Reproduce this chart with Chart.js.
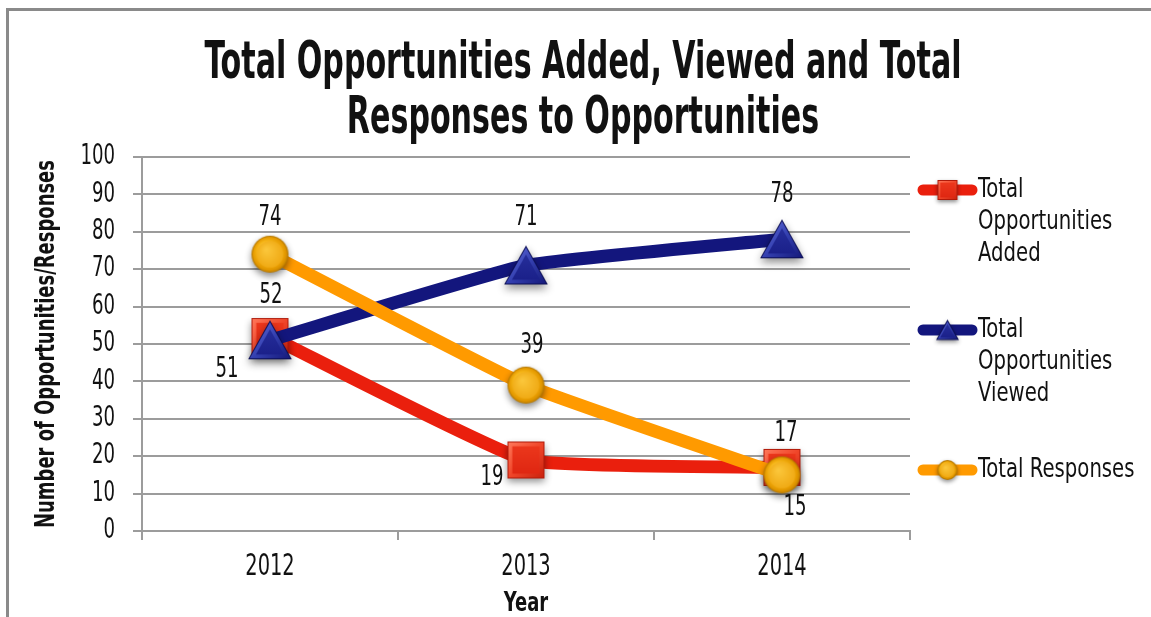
<!DOCTYPE html>
<html>
<head>
<meta charset="utf-8">
<script src="https://cdn.jsdelivr.net/npm/chart.js@4/dist/chart.umd.min.js"></script>
<style>
  html, body { margin: 0; padding: 0; background: #fff; overflow: hidden; }
  canvas { display: block; }
</style>
</head>
<body>
<canvas id="chart" width="1151" height="617"></canvas>
<script>
// ---- data ----
const years = ['2012', '2013', '2014'];
const addedValues = [52, 19, 17];
const viewedValues = [51, 71, 78];
const responseValues = [74, 39, 15];
const seriesNames = ['Total Opportunities Added', 'Total Opportunities Viewed', 'Total Responses'];
const titleLines = ['Total Opportunities Added, Viewed and Total', 'Responses to Opportunities'];
const yAxisTitle = 'Number of Opportunities/Responses';
const xAxisTitle = 'Year';

// ---- styles ----
const RED = '#EA1F0D';
const NAVY = '#13167D';
const ORANGE = '#FF9A00';
const GRID = '#9c9c9c';
const TEXT = '#111';
const NARROW = '"DejaVu Sans Condensed", "Liberation Sans", sans-serif';
const SQUEEZE = 0.81;       // horizontal compression for legend text
const NUM_SQUEEZE = 0.72;   // horizontal compression for numbers

// Draw text compressed horizontally around its anchor point
function squeezedText(g, text, x, y, sx, angle) {
  g.save();
  g.translate(x, y);
  if (angle) g.rotate(angle);
  g.scale(sx, 1);
  g.fillText(text, 0, 0);
  g.restore();
}

// Bevelled marker glyphs, rendered once into small canvases
function markerCanvas(shape, s) {
  const pad = Math.round(s * 0.4);
  const W = s + pad * 2;
  const cv = document.createElement('canvas');
  cv.width = W; cv.height = W;
  const g = cv.getContext('2d');
  const c = W / 2, h = s / 2;

  function path(inset) {
    g.beginPath();
    if (shape === 'square') {
      g.rect(c - h + inset, c - h + inset, s - 2 * inset, s - 2 * inset);
    } else if (shape === 'triangle') {
      const top = c - h * 1.0 + inset * 1.9, bot = c + h * 0.95 - inset;
      const half = (bot - top) * 0.56;
      g.moveTo(c, top);
      g.lineTo(c + half, bot);
      g.lineTo(c - half, bot);
      g.closePath();
    } else {
      g.arc(c, c, h - inset, 0, Math.PI * 2);
    }
  }

  // drop shadow
  g.save();
  g.shadowColor = 'rgba(0,0,0,0.45)';
  g.shadowBlur = s * 0.2;
  g.shadowOffsetY = s * 0.1;
  path(0);
  g.fillStyle = shape === 'square' ? '#B01A0A' : shape === 'triangle' ? '#0B0E55' : '#B87A00';
  g.fill();
  g.restore();

  if (shape === 'square') {
    path(1);
    let lg = g.createLinearGradient(c - h, c - h, c + h, c + h);
    lg.addColorStop(0, '#FF7A5C'); lg.addColorStop(0.5, '#F0462A'); lg.addColorStop(1, '#C8200C');
    g.fillStyle = lg; g.fill();
    path(s * 0.13);
    lg = g.createLinearGradient(0, c - h, 0, c + h);
    lg.addColorStop(0, '#EE3A1E'); lg.addColorStop(1, '#DD2410');
    g.fillStyle = lg; g.fill();
  } else if (shape === 'triangle') {
    path(1);
    let lg = g.createLinearGradient(c - h, c - h, c + h, c + h);
    lg.addColorStop(0, '#6A74E0'); lg.addColorStop(0.5, '#3440B0'); lg.addColorStop(1, '#141878');
    g.fillStyle = lg; g.fill();
    path(s * 0.12);
    lg = g.createLinearGradient(0, c - h, 0, c + h);
    lg.addColorStop(0, '#2A33A0'); lg.addColorStop(1, '#181D86');
    g.fillStyle = lg; g.fill();
  } else {
    path(1);
    const rg = g.createRadialGradient(c - h * 0.3, c - h * 0.35, h * 0.1, c, c, h);
    rg.addColorStop(0, '#FFE27A'); rg.addColorStop(0.45, '#F7B81A'); rg.addColorStop(0.85, '#E59A00'); rg.addColorStop(1, '#C27F00');
    g.fillStyle = rg; g.fill();
    path(s * 0.14);
    const rg2 = g.createRadialGradient(c - h * 0.2, c - h * 0.25, h * 0.05, c, c, h * 0.9);
    rg2.addColorStop(0, '#FBC63A'); rg2.addColorStop(1, '#EEA50E');
    g.fillStyle = rg2; g.fill();
  }
  return cv;
}

const markers = {
  square: markerCanvas('square', 37),
  triangle: markerCanvas('triangle', 40),
  circle: markerCanvas('circle', 37)
};
const legendMarkers = {
  square: markerCanvas('square', 20),
  triangle: markerCanvas('triangle', 21),
  circle: markerCanvas('circle', 20)
};

// Frame and two-line condensed title
const framePlugin = {
  id: 'frame',
  beforeDraw(chart) {
    const g = chart.ctx;
    g.save();
    g.fillStyle = '#fff';
    g.fillRect(0, 0, chart.width, chart.height);
    g.strokeStyle = '#8a8a8a';
    g.lineWidth = 3;
    g.beginPath();
    g.moveTo(7.5, chart.height);
    g.lineTo(7.5, 9.5);
    g.lineTo(chart.width, 9.5);
    g.stroke();

    g.font = 'bold 52px ' + NARROW;
    g.fillStyle = TEXT;
    g.textAlign = 'center';
    g.textBaseline = 'alphabetic';
    const sx = 757 / g.measureText(titleLines[0]).width;
    const baselines = [78, 133];
    titleLines.forEach((t, i) => squeezedText(g, t, 583, baselines[i], sx));
    g.restore();
  }
};

// Condensed tick labels and axis titles, placed from the chart's scales
const axisTextPlugin = {
  id: 'axisText',
  afterDraw(chart) {
    const g = chart.ctx;
    const xs = chart.scales.x, ys = chart.scales.y;
    const area = chart.chartArea;
    g.save();
    g.fillStyle = TEXT;
    g.textBaseline = 'middle';

    g.font = '28px ' + NARROW;
    g.textAlign = 'right';
    ys.ticks.forEach((t, i) => {
      squeezedText(g, String(t.value), area.left - 27, ys.getPixelForTick(i), NUM_SQUEEZE);
    });
    g.font = '30px ' + NARROW;
    g.textAlign = 'center';
    xs.ticks.forEach((t, i) => {
      squeezedText(g, xs.getLabelForValue(t.value), xs.getPixelForTick(i), area.bottom + 36, NUM_SQUEEZE);
    });

    g.font = 'bold 27px ' + NARROW;
    const tsx = (area.bottom - area.top - 6) / g.measureText(yAxisTitle).width;
    squeezedText(g, yAxisTitle, 47, (area.top + area.bottom) / 2, tsx, -Math.PI / 2);
    squeezedText(g, xAxisTitle, (area.left + area.right) / 2, 604, tsx);
    g.restore();
  }
};

// Value labels next to every point
const valueLabelPlugin = {
  id: 'valueLabels',
  afterDatasetsDraw(chart) {
    const g = chart.ctx;
    g.save();
    g.font = '28px ' + NARROW;
    g.fillStyle = TEXT;
    g.textAlign = 'center';
    g.textBaseline = 'middle';
    chart.data.datasets.forEach((ds, di) => {
      const meta = chart.getDatasetMeta(di);
      meta.data.forEach((pt, i) => {
        const off = ds.labelOffsets[i];
        squeezedText(g, String(ds.data[i]), pt.x + off[0], pt.y + off[1], NUM_SQUEEZE);
      });
    });
    g.restore();
  }
};

// Legend on the right with wrapped entries
const sideLegendPlugin = {
  id: 'sideLegend',
  afterDraw(chart) {
    const g = chart.ctx;
    g.save();
    g.font = '27px ' + NARROW;
    g.fillStyle = TEXT;
    g.textAlign = 'left';
    g.textBaseline = 'middle';
    const x0 = 918, x1 = 977, textX = 978, maxW = 168, lineH = 32, gap = 44;
    let y = 190;
    chart.data.datasets.forEach((ds) => {
      const words = ds.label.split(' ');
      const lines = [];
      let cur = '';
      words.forEach(w => {
        const test = cur ? cur + ' ' + w : w;
        if (cur && g.measureText(test).width * SQUEEZE > maxW) { lines.push(cur); cur = w; }
        else cur = test;
      });
      if (cur) lines.push(cur);

      g.strokeStyle = ds.borderColor;
      g.lineWidth = 11;
      g.lineCap = 'round';
      g.beginPath();
      g.moveTo(x0 + 5, y);
      g.lineTo(x1 - 5, y);
      g.stroke();
      const m = ds.legendMarker;
      g.drawImage(m, (x0 + x1) / 2 - m.width / 2, y - m.height / 2);

      lines.forEach((t, i) => squeezedText(g, t, textX, y + i * lineH, SQUEEZE));
      y += lines.length * lineH + gap;
    });
    g.restore();
  }
};

new Chart(document.getElementById('chart'), {
  type: 'line',
  data: {
    labels: years,
    datasets: [
      {
        label: seriesNames[0], data: addedValues, borderColor: RED, backgroundColor: RED,
        pointStyle: markers.square, legendMarker: legendMarkers.square, order: 3,
        labelOffsets: [[1, -41], [-34, 18], [4, -34]]
      },
      {
        label: seriesNames[1], data: viewedValues, borderColor: NAVY, backgroundColor: NAVY,
        pointStyle: markers.triangle, legendMarker: legendMarkers.triangle, order: 2,
        labelOffsets: [[-43, 29], [0, -48], [0, -45]]
      },
      {
        label: seriesNames[2], data: responseValues, borderColor: ORANGE, backgroundColor: ORANGE,
        pointStyle: markers.circle, legendMarker: legendMarkers.circle, order: 1,
        labelOffsets: [[0, -37], [6, -39], [13, 33]]
      }
    ]
  },
  options: {
    responsive: false,
    animation: false,
    devicePixelRatio: 1,
    layout: { padding: { left: 24, right: 241, top: 157, bottom: 0 } },
    plugins: { legend: { display: false }, title: { display: false }, tooltip: { enabled: false } },
    elements: {
      line: { borderWidth: 13, tension: 0.12, borderCapStyle: 'round', borderJoinStyle: 'round' },
      point: { radius: 18, hoverRadius: 18 }
    },
    scales: {
      x: {
        offset: true,
        grid: { offset: true, drawOnChartArea: false, color: GRID, lineWidth: 2, tickLength: 9 },
        border: { color: GRID, width: 2 },
        ticks: { display: false },
        afterFit(s) { s.height = 86; }
      },
      y: {
        min: 0, max: 100,
        grid: { color: GRID, lineWidth: 2, tickLength: 9 },
        border: { color: GRID, width: 2 },
        ticks: { stepSize: 10, display: false },
        afterFit(s) { s.width = 118; }
      }
    }
  },
  plugins: [framePlugin, valueLabelPlugin, axisTextPlugin, sideLegendPlugin]
});
</script>
</body>
</html>
